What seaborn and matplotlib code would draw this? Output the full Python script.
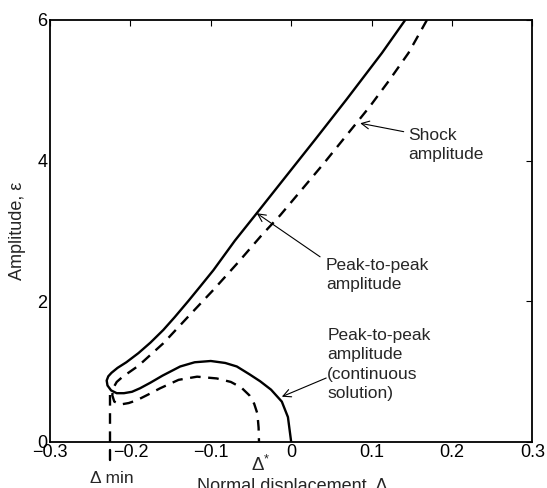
import numpy as np
import pandas as pd
import matplotlib
matplotlib.use("Agg")
import matplotlib.pyplot as plt
import seaborn as sns

# Peak-to-peak amplitude: upper branch from the top down to the turning point,
# then the continuous-solution branch back down to zero displacement.
ptp_x = [0.142, 0.113, 0.069, 0.030, -0.0137, -0.0428, -0.070, -0.0967, -0.113,
         -0.128, -0.145, -0.159, -0.175, -0.190, -0.205, -0.216, -0.2235, -0.2275,
         -0.2295, -0.2285, -0.224, -0.217,
         -0.208, -0.198, -0.188, -0.175, -0.160, -0.138, -0.120, -0.100, -0.082,
         -0.0676, -0.052, -0.0386, -0.025, -0.0116, -0.004, 0.0]
ptp_y = [6.00, 5.53, 4.87, 4.30, 3.67, 3.25, 2.86, 2.44, 2.21,
         2.00, 1.77, 1.59, 1.41, 1.26, 1.13, 1.05, 0.98, 0.93,
         0.87, 0.80, 0.73, 0.69,
         0.69, 0.71, 0.76, 0.84, 0.94, 1.07, 1.13, 1.148, 1.12,
         1.07, 0.96, 0.86, 0.74, 0.57, 0.35, 0.0]

# Shock amplitude
shock_x = [0.169, 0.146, 0.122, 0.098, 0.086, 0.040, -0.0137, -0.0365, -0.066,
           -0.0967, -0.128, -0.159, -0.190, -0.210, -0.217, -0.2215, -0.2225,
           -0.220, -0.212, -0.202, -0.192, -0.178, -0.163, -0.140, -0.117,
           -0.0926, -0.075, -0.062, -0.052, -0.046, -0.042, -0.0405, -0.040]
shock_y = [6.00, 5.53, 5.14, 4.77, 4.60, 3.95, 3.22, 2.94, 2.55,
           2.16, 1.78, 1.40, 1.08, 0.92, 0.85, 0.76, 0.66,
           0.57, 0.53, 0.55, 0.59, 0.67, 0.76, 0.88, 0.925,
           0.90, 0.85, 0.77, 0.66, 0.54, 0.40, 0.20, 0.0]

# Minimum displacement marker
delta_min = -0.2254
delta_min_top = 0.69
delta_star = -0.040

x_ticks = [-0.3, -0.2, -0.1, 0, 0.1, 0.2, 0.3]
x_ticklabels = ["\u22120.3", "\u22120.2", "\u22120.1", "0", "0.1", "0.2", "0.3"]
y_ticks = [0, 2, 4, 6]

sns.set_style("white")
plt.rcParams["font.family"] = ["Liberation Sans", "DejaVu Sans"]
plt.rcParams["mathtext.fontset"] = "custom"
plt.rcParams["mathtext.rm"] = "Liberation Sans"
plt.rcParams["mathtext.it"] = "Liberation Sans"

FS = 12.5

fig = plt.figure(figsize=(5.47, 4.88), dpi=100)
ax = fig.add_axes([50 / 547, 1 - 441.7 / 488, 482.3 / 547, 421.8 / 488])

ptp = pd.DataFrame({"x": ptp_x, "y": ptp_y})
shock = pd.DataFrame({"x": shock_x, "y": shock_y})

sns.lineplot(data=ptp, x="x", y="y", sort=False, estimator=None, ax=ax,
             color="black", lw=1.7)
sns.lineplot(data=shock, x="x", y="y", sort=False, estimator=None, ax=ax,
             color="black", lw=1.7)
ax.lines[-1].set_dashes([4.5, 3.2])

# vertical dashed line at the minimum displacement, extending just below the axis
ax.plot([delta_min, delta_min], [0, delta_min_top], color="black", lw=1.7,
        dashes=[4.5, 3.2])
ax.plot([delta_min, delta_min], [-0.12, -0.26], color="black", lw=1.7,
        clip_on=False)

ax.set_xlim(-0.3, 0.3)
ax.set_ylim(0, 6)
ax.set_xticks(x_ticks)
ax.set_xticklabels(x_ticklabels)
ax.set_yticks(y_ticks)
ax.tick_params(direction="in", length=4, width=0.8, top=True, right=True,
               labelsize=13, colors="black", pad=2)
ax.tick_params(axis="y", pad=2)
for s in ax.spines.values():
    s.set_visible(True)
    s.set_color("black")
    s.set_linewidth(1.3)

ax.set_xlabel("Normal displacement, \u0394", fontsize=13)
ax.xaxis.set_label_coords(0.502, -0.085)
ax.set_ylabel("Amplitude, \u03b5", fontsize=13)
ax.yaxis.set_label_coords(-0.05, 0.5)

ax.text(delta_min + 0.002, -0.53, "\u0394 min", fontsize=FS, ha="center",
        va="center", clip_on=False)
ax.text(delta_star + 0.002, -0.33, "\u0394$^{*}$", fontsize=FS + 1, ha="center",
        va="center", clip_on=False)

arrow = dict(arrowstyle="->", lw=0.8, color="black",
             shrinkA=0, shrinkB=0, mutation_scale=14)
ax.text(0.1453, 4.22, "Shock\namplitude", fontsize=FS, ha="left", va="center",
        linespacing=1.37)
ax.annotate("", xy=(0.0859, 4.53), xytext=(0.140, 4.41), arrowprops=arrow)
ax.text(0.0432, 2.37, "Peak-to-peak\namplitude", fontsize=FS, ha="left",
        va="center", linespacing=1.37)
ax.annotate("", xy=(-0.0428, 3.25), xytext=(0.036, 2.63), arrowprops=arrow)
ax.text(0.045, 1.10, "Peak-to-peak\namplitude\n(continuous\nsolution)",
        fontsize=FS, ha="left", va="center", linespacing=1.37)
ax.annotate("", xy=(-0.0116, 0.64), xytext=(0.0436, 0.906), arrowprops=arrow)

fig.savefig("out.png", dpi=100)
